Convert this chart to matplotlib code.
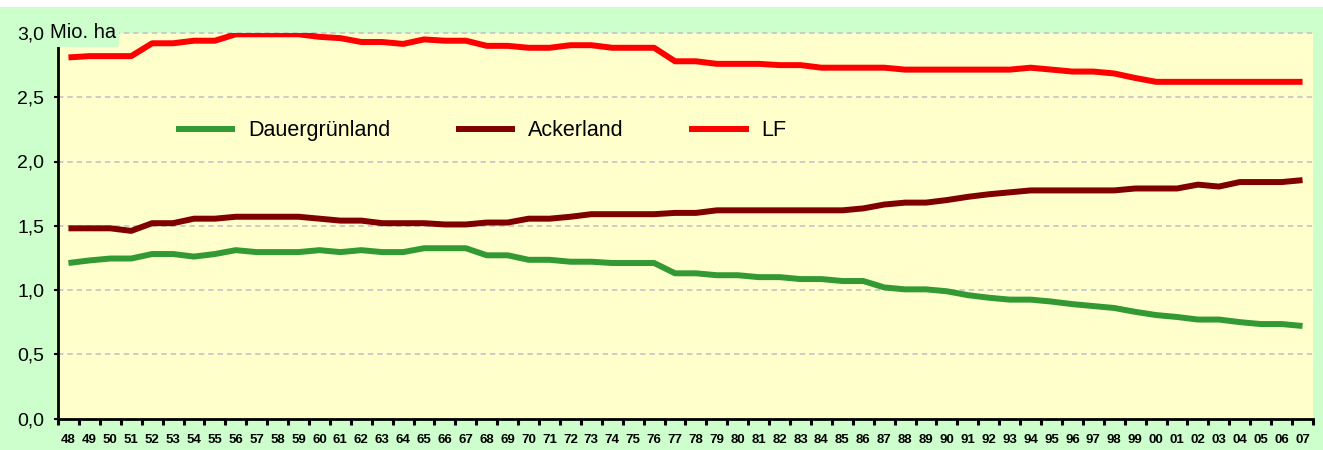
import matplotlib.pyplot as plt
from matplotlib.patches import Rectangle
from matplotlib.ticker import FixedLocator, FuncFormatter

years = ["48", "49", "50", "51", "52", "53", "54", "55", "56", "57",
         "58", "59", "60", "61", "62", "63", "64", "65", "66", "67",
         "68", "69", "70", "71", "72", "73", "74", "75", "76", "77",
         "78", "79", "80", "81", "82", "83", "84", "85", "86", "87",
         "88", "89", "90", "91", "92", "93", "94", "95", "96", "97",
         "98", "99", "00", "01", "02", "03", "04", "05", "06", "07"]

dauergruenland = [1.21, 1.23, 1.245, 1.245, 1.28, 1.28, 1.26, 1.28, 1.31, 1.295,
                  1.295, 1.295, 1.31, 1.295, 1.31, 1.295, 1.295, 1.325, 1.325, 1.325,
                  1.27, 1.27, 1.235, 1.235, 1.22, 1.22, 1.21, 1.21, 1.21, 1.13,
                  1.13, 1.115, 1.115, 1.10, 1.10, 1.085, 1.085, 1.07, 1.07, 1.02,
                  1.005, 1.005, 0.99, 0.96, 0.94, 0.925, 0.925, 0.91, 0.89, 0.875,
                  0.86, 0.83, 0.805, 0.79, 0.77, 0.77, 0.75, 0.735, 0.735, 0.72]

ackerland = [1.48, 1.48, 1.48, 1.46, 1.52, 1.52, 1.555, 1.555, 1.57, 1.57,
             1.57, 1.57, 1.555, 1.54, 1.54, 1.52, 1.52, 1.52, 1.51, 1.51,
             1.525, 1.525, 1.555, 1.555, 1.57, 1.59, 1.59, 1.59, 1.59, 1.60,
             1.60, 1.62, 1.62, 1.62, 1.62, 1.62, 1.62, 1.62, 1.635, 1.665,
             1.68, 1.68, 1.70, 1.725, 1.745, 1.76, 1.775, 1.775, 1.775, 1.775,
             1.775, 1.79, 1.79, 1.79, 1.82, 1.805, 1.84, 1.84, 1.84, 1.855]

lf = [2.81, 2.82, 2.82, 2.82, 2.92, 2.92, 2.94, 2.94, 2.99, 2.99,
      2.99, 2.99, 2.97, 2.96, 2.93, 2.93, 2.915, 2.95, 2.94, 2.94,
      2.90, 2.90, 2.885, 2.885, 2.905, 2.905, 2.885, 2.885, 2.885, 2.78,
      2.78, 2.76, 2.76, 2.76, 2.75, 2.75, 2.73, 2.73, 2.73, 2.73,
      2.715, 2.715, 2.715, 2.715, 2.715, 2.715, 2.73, 2.715, 2.70, 2.70,
      2.685, 2.65, 2.62, 2.62, 2.62, 2.62, 2.62, 2.62, 2.62, 2.62]

y_ticks = [0.0, 0.5, 1.0, 1.5, 2.0, 2.5, 3.0]

plt.rcParams['font.family'] = ['Liberation Sans', 'DejaVu Sans']

fig = plt.figure(figsize=(13.23, 4.5), dpi=100, facecolor='#CCFFCC')
fig.patches.append(Rectangle((0, 1 - 7 / 450), 1, 7 / 450, transform=fig.transFigure,
                             facecolor='white', edgecolor='none', zorder=0))

ax = fig.add_axes([58 / 1323, 1 - 418.5 / 450, (1313 - 58) / 1323, (418.5 - 33) / 450])
ax.set_facecolor('#FFFFCC')

x = [i + 0.5 for i in range(len(years))]
ax.plot(x, dauergruenland, color='#339933', lw=4.3, label='Dauergrünland',
        solid_capstyle='butt', zorder=3)
ax.plot(x, ackerland, color='#800000', lw=4.3, label='Ackerland',
        solid_capstyle='butt', zorder=3)
ax.plot(x, lf, color='#FF0000', lw=4.3, label='LF', solid_capstyle='butt', zorder=3)

ax.set_xlim(0, len(years))
ax.set_ylim(0, 3.0)

for v in y_ticks[1:]:
    ax.axhline(v, color='#C8C8C8', lw=1.3, ls=(0, (3, 2.2)), zorder=1, clip_on=False)

for s in ['top', 'right']:
    ax.spines[s].set_visible(False)
for s in ['left', 'bottom']:
    ax.spines[s].set_linewidth(2)
    ax.spines[s].set_zorder(4)

ax.set_yticks(y_ticks)
ax.yaxis.set_major_formatter(FuncFormatter(lambda v, p: f"{v:.1f}".replace('.', ',')))
ax.tick_params(axis='y', length=3, width=1.5, pad=7, labelsize=14)

ax.xaxis.set_major_locator(FixedLocator(range(len(years) + 1)))
ax.xaxis.set_minor_locator(FixedLocator(x))
ax.set_xticklabels([], minor=False)
ax.set_xticklabels(years, minor=True, fontsize=9.5, fontweight='bold',
                   family=['Liberation Sans Narrow', 'Liberation Sans'])
ax.tick_params(axis='x', which='major', length=4, width=2.2)
ax.tick_params(axis='x', which='minor', length=0, pad=11)

ax.legend(loc='center left', bbox_to_anchor=(0.094, 0.746), ncol=3, frameon=False,
          fontsize=15.5, handlelength=2.75, handletextpad=0.6, columnspacing=3.05,
          borderpad=0, borderaxespad=0)

fig.text(50 / 1323, 1 - 33 / 450, 'Mio. ha', fontsize=14.5, va='center', ha='left',
         bbox=dict(facecolor='#CCFFCC', edgecolor='none', pad=0,
                   boxstyle='square,pad=0.15'), zorder=10)
fig.patches.append(Rectangle((50 / 1323, 1 - 47 / 450), 68 / 1323, 21 / 450,
                             transform=fig.transFigure, facecolor='#CCFFCC',
                             edgecolor='none', zorder=5))

fig.savefig('out.png', dpi=100, facecolor=fig.get_facecolor())
